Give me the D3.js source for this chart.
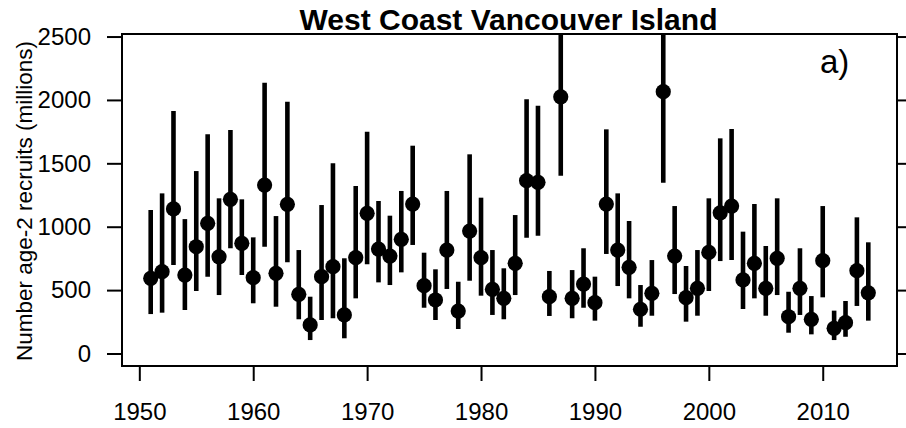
<!DOCTYPE html>
<html>
<head>
<meta charset="utf-8">
<script src="https://cdn.jsdelivr.net/npm/d3@7"></script>
<style>
  html, body { margin: 0; padding: 0; background: #fff; }
  svg { display: block; font-family: "Liberation Sans", Arial, sans-serif; }
</style>
</head>
<body>
<svg id="chart" width="906" height="428"></svg>
<script>
// ---- data ----
const years = [1951,1952,1953,1954,1955,1956,1957,1958,1959,1960,
  1961,1962,1963,1964,1965,1966,1967,1968,1969,1970,
  1971,1972,1973,1974,1975,1976,1977,1978,1979,1980,
  1981,1982,1983,1984,1985,1986,1987,1988,1989,1990,
  1991,1992,1993,1994,1995,1996,1997,1998,1999,2000,
  2001,2002,2003,2004,2005,2006,2007,2008,2009,2010,
  2011,2012,2013,2014];
const estimate = [593,645,1140,619,842,1027,763,1216,869,598,
  1329,632,1177,467,225,606,685,304,756,1106,
  824,769,901,1179,535,422,816,335,966,756,
  506,435,711,1363,1350,448,2025,435,548,401,
  1179,816,680,349,475,2065,769,440,514,798,
  1110,1163,580,711,514,751,290,514,270,732,
  199,243,653,479];
const upper = [1132,1263,1912,1060,1439,1729,1224,1763,1216,916,
  2136,1084,1986,816,448,1171,1500,751,1321,1749,
  1203,1087,1282,1639,795,664,1282,566,1571,1229,
  816,672,1092,2005,1954,651,3000,658,830,606,
  1768,1263,1045,540,737,3000,1163,690,816,1224,
  1697,1770,961,1179,848,1224,487,830,453,1163,
  338,414,1074,877];
const lower = [311,322,698,343,493,606,461,830,619,396,
  842,369,719,270,106,264,278,120,435,703,
  561,540,640,856,361,264,509,193,574,456,
  304,270,461,913,929,296,1402,278,361,259,
  785,532,435,211,298,1347,469,251,298,493,
  729,737,351,435,298,461,164,304,151,443,
  106,132,375,259];
const xTicks = [1950,1960,1970,1980,1990,2000,2010];
const yTicks = [0,500,1000,1500,2000,2500];
const title = "West Coast Vancouver Island";
const yLabel = "Number age-2 recruits (millions)";
const panelLabel = "a)";

// ---- layout ----
const svg = d3.select("#chart");
const box = {left: 122, right: 897, top: 34, bottom: 366};

const x = d3.scaleLinear().domain([1948.48, 2016.52]).range([box.left, box.right]);
const y = d3.scaleLinear().domain([-98.6, 2520]).range([box.bottom, box.top]);

svg.append("defs").append("clipPath").attr("id", "plotclip")
  .append("rect")
  .attr("x", box.left).attr("y", box.top)
  .attr("width", box.right - box.left).attr("height", box.bottom - box.top);

const data = years.map((yr, i) => ({yr, est: estimate[i], lo: lower[i], hi: upper[i]}));

const g = svg.append("g").attr("clip-path", "url(#plotclip)");
g.selectAll("line.ci").data(data).join("line")
  .attr("class", "ci")
  .attr("x1", d => x(d.yr)).attr("x2", d => x(d.yr))
  .attr("y1", d => y(d.lo)).attr("y2", d => y(d.hi))
  .attr("stroke", "#000").attr("stroke-width", 4.6);
g.selectAll("circle.pt").data(data).join("circle")
  .attr("class", "pt")
  .attr("cx", d => x(d.yr)).attr("cy", d => y(d.est))
  .attr("r", 7.6).attr("fill", "#000");

// box
svg.append("rect")
  .attr("x", box.left).attr("y", box.top)
  .attr("width", box.right - box.left).attr("height", box.bottom - box.top)
  .attr("fill", "none").attr("stroke", "#000").attr("stroke-width", 2);

// axes
const fontSize = 24;
const ax = svg.append("g").attr("transform", `translate(0,${box.bottom})`)
  .call(d3.axisBottom(x).tickValues(xTicks).tickFormat(d3.format("d")).tickSize(15).tickPadding(22));
const ay = svg.append("g").attr("transform", `translate(${box.left},0)`)
  .call(d3.axisLeft(y).tickValues(yTicks).tickFormat(d3.format("d")).tickSize(15).tickPadding(16));
const ar = svg.append("g").attr("transform", `translate(${box.right},0)`)
  .call(d3.axisRight(y).tickValues(yTicks).tickFormat("").tickSize(15));
[ax, ay, ar].forEach(a => {
  a.select(".domain").remove();
  a.selectAll(".tick line").attr("stroke", "#000").attr("stroke-width", 2);
  a.selectAll(".tick text").attr("fill", "#000")
    .style("font-size", fontSize + "px")
    .style("font-family", '"Liberation Sans", Arial, sans-serif');
});

// title
svg.append("text")
  .attr("x", (box.left + box.right) / 2 - 1).attr("y", 30)
  .attr("text-anchor", "middle")
  .style("font-size", "30px").style("font-weight", "bold")
  .text(title);

// y label
svg.append("text")
  .attr("transform", "translate(32,201) rotate(-90)")
  .attr("text-anchor", "middle")
  .style("font-size", "22.5px")
  .text(yLabel);

// panel label
svg.append("text")
  .attr("x", 820).attr("y", 73)
  .style("font-size", "33px")
  .text(panelLabel);
</script>
</body>
</html>
